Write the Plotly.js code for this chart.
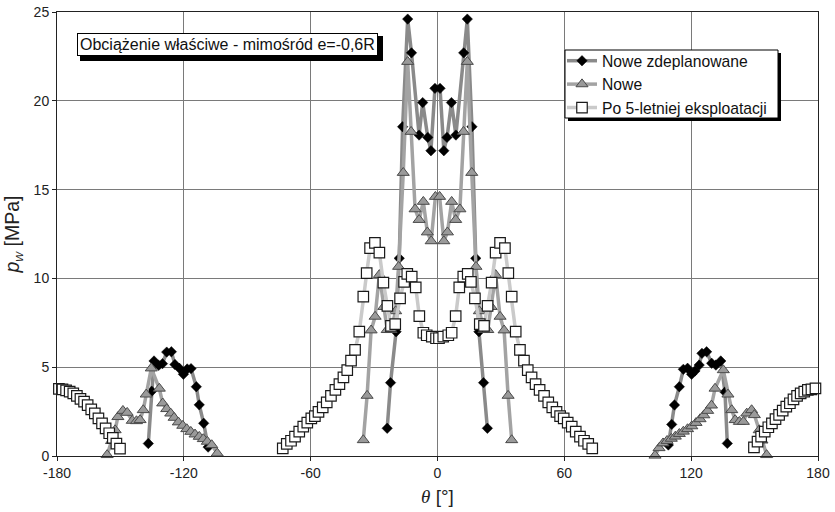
<!DOCTYPE html>
<html>
<head>
<meta charset="utf-8">
<script src="https://cdn.plot.ly/plotly-3.0.1.min.js"></script>
<style>html,body{margin:0;padding:0;background:#fff;}#chart{width:835px;height:512px;}</style>
</head>
<body>
<div id="chart"></div>
<script>
// ---- Series names ----
var seriesNames = ["Nowe zdeplanowane", "Nowe", "Po 5-letniej eksploatacji"];
var titleText = "Obciążenie właściwe - mimośród e=-0,6R";
var xTicks = [-180, -120, -60, 0, 60, 120, 180];
var yTicks = [0, 5, 10, 15, 20, 25];

// ---- Nowe zdeplanowane (diamonds) ----
var dLeftX = [-136.8, -135.2, -134.1, -131.9, -130.1, -128.1, -125.9, -124.2, -122.1, -120.2, -118.4, -116.6, -114.1, -112.7, -110.6, -108.5];
var dLeftY = [0.7, 3.65, 5.35, 5.1, 5.2, 5.85, 5.87, 5.15, 4.94, 4.6, 4.9, 4.92, 3.9, 2.88, 1.84, 0.5];
var dMidX = [-23.8, -22.2, -19.6, -18.1, -16.5, -14.1, -12.3, -8.7, -7.0, -4.6, -3.1, -1.2, 1.2, 3.0, 4.5, 6.6, 8.7, 12.4, 14.1, 16.3, 18.1, 19.6, 21.8, 23.6];
var dMidY = [1.56, 4.13, 7.0, 11.13, 18.54, 24.6, 22.7, 18.07, 19.9, 17.94, 17.19, 20.7, 20.7, 17.19, 17.94, 19.9, 18.07, 22.7, 24.6, 18.54, 11.13, 7.0, 4.13, 1.56];
var dRightX = [109.2, 110.8, 112.1, 114.4, 116.3, 118.3, 120.2, 121.8, 123.8, 125.1, 127.3, 129.7, 131.7, 134.0, 136.0, 137.1];
var dRightY = [0.62, 1.78, 2.87, 3.9, 4.88, 4.94, 4.6, 4.79, 5.12, 5.78, 5.87, 5.22, 5.12, 5.35, 3.6, 0.71];

// ---- Nowe (triangles) ----
var tLeftX = [-156.3, -154.2, -152.5, -151.2, -148.8, -146.8, -144.4, -142.4, -140.7, -139.2, -137.8, -135.4, -131.6, -130.0, -128.1, -126.2, -124.6, -122.6, -120.5, -118.6, -116.7, -114.7, -112.7, -110.8, -108.9, -106.8, -104.2];
var tLeftY = [0.06, 0.85, 1.46, 2.2, 2.55, 2.44, 1.99, 1.97, 2.03, 2.59, 3.47, 4.94, 3.8, 2.97, 2.65, 2.4, 2.16, 1.9, 1.71, 1.52, 1.37, 1.22, 1.09, 0.96, 0.81, 0.62, 0.15];
var tMidX = [-35.1, -33.3, -31.4, -29.5, -27.5, -25.4, -23.8, -22.0, -19.8, -18.4, -16.2, -14.1, -12.5, -10.6, -8.7, -6.7, -4.8, -3.0, -1.0, 1.0, 3.0, 4.7, 6.7, 8.6, 10.6, 12.3, 14.1, 16.2, 18.2, 19.8, 22.0, 23.8, 25.4, 27.5, 29.6, 31.5, 33.4, 35.1];
var tMidY = [0.9, 3.4, 7.08, 7.85, 10.2, 8.4, 7.1, 7.1, 8.16, 10.66, 15.95, 22.2, 18.26, 13.9, 13.3, 14.32, 12.6, 12.1, 14.6, 14.6, 12.1, 12.6, 14.32, 13.3, 13.9, 18.26, 22.2, 15.95, 10.66, 8.16, 7.1, 7.1, 8.4, 10.2, 7.85, 7.08, 3.4, 0.9];
var tRightX = [102.9, 104.8, 106.7, 108.6, 110.6, 112.5, 114.4, 116.3, 118.3, 120.3, 122.3, 124.2, 126.0, 127.8, 129.6, 131.3, 135.2, 137.4, 139.2, 140.8, 142.8, 144.7, 146.3, 148.6, 149.9, 152.2, 153.5, 155.7];
var tRightY = [0.03, 0.45, 0.72, 0.86, 0.98, 1.1, 1.25, 1.38, 1.52, 1.68, 1.87, 2.08, 2.3, 2.55, 2.85, 3.8, 4.84, 3.47, 2.59, 2.03, 1.93, 1.93, 2.4, 2.59, 2.31, 1.46, 0.88, 0.06];

// ---- Po 5-letniej eksploatacji (squares) ----
var sLeftX = [-179.1, -177.4, -175.7, -174.0, -172.3, -170.6, -168.9, -167.2, -165.5, -163.8, -162.1, -160.4, -158.7, -157.0, -155.3, -153.6, -151.9, -150.2];
var sLeftY = [3.78, 3.75, 3.7, 3.62, 3.53, 3.38, 3.22, 3.06, 2.87, 2.63, 2.4, 2.12, 1.84, 1.56, 1.28, 1.02, 0.7, 0.42];
var sMidX = [-73.2, -71.3, -69.3, -67.4, -65.4, -63.5, -61.6, -59.7, -58.0, -56.3, -54.3, -52.4, -50.4, -48.3, -46.4, -44.5, -42.7, -40.9, -39.0, -37.0, -35.1, -33.5, -31.9, -29.6, -27.5, -25.6, -23.7, -22.0, -20.0, -17.7, -15.8, -14.3, -12.2, -10.3, -8.6, -6.7, -5.1, -2.7, -0.7,
             0.7, 2.7, 5.1, 6.7, 8.6, 10.3, 12.2, 14.3, 15.8, 17.7, 20.0, 22.0, 23.7, 25.6, 27.5, 29.6, 31.9, 33.5, 35.1, 37.0, 39.0, 40.9, 42.7, 44.5, 46.4, 48.3, 50.4, 52.4, 54.3, 56.3, 58.0, 59.7, 61.6, 63.5, 65.4, 67.4, 69.3, 71.3, 73.2];
var sMidY = [0.43, 0.68, 0.86, 1.09, 1.37, 1.65, 1.88, 2.12, 2.25, 2.49, 2.74, 3.02, 3.38, 3.72, 4.05, 4.43, 4.84, 5.37, 5.97, 7.0, 8.97, 10.3, 11.7, 12.0, 11.45, 9.76, 8.45, 7.33, 7.43, 8.88, 9.8, 10.25, 10.1, 9.5, 7.88, 6.94, 6.8, 6.72, 6.63,
             6.63, 6.72, 6.8, 6.94, 7.88, 9.5, 10.1, 10.25, 9.8, 8.88, 7.43, 7.33, 8.45, 9.76, 11.45, 12.0, 11.7, 10.3, 8.97, 7.0, 5.97, 5.37, 4.84, 4.43, 4.05, 3.72, 3.38, 3.02, 2.74, 2.49, 2.25, 2.12, 1.88, 1.65, 1.37, 1.09, 0.86, 0.68, 0.43];
var sRightX = [149.7, 151.4, 153.1, 154.8, 156.5, 158.2, 159.9, 161.6, 163.3, 165.0, 166.7, 168.4, 170.1, 171.8, 173.5, 175.2, 176.9, 178.8];
var sRightY = [0.49, 0.81, 1.09, 1.37, 1.62, 1.84, 2.08, 2.31, 2.55, 2.78, 2.97, 3.19, 3.38, 3.53, 3.62, 3.72, 3.75, 3.81];

function joinSeg(parts) {
  var out = [];
  parts.forEach(function (p, i) { if (i > 0) out.push(null); out = out.concat(p); });
  return out;
}

var traces = [
  {
    name: seriesNames[0], type: 'scatter', mode: 'lines+markers', cliponaxis: false, connectgaps: false,
    x: joinSeg([dLeftX, dMidX, dRightX]), y: joinSeg([dLeftY, dMidY, dRightY]),
    line: {color: '#8a8a8a', width: 3.5},
    marker: {symbol: 'diamond', size: 8, color: '#000000', line: {color: '#000000', width: 0.5}}
  },
  {
    name: seriesNames[1], type: 'scatter', mode: 'lines+markers', cliponaxis: false, connectgaps: false,
    x: joinSeg([tLeftX, tMidX, tRightX]), y: joinSeg([tLeftY, tMidY, tRightY]),
    line: {color: '#a3a3a3', width: 3.5},
    marker: {symbol: 'triangle-up', size: 10.5, color: '#9a9a9a', line: {color: '#4a4a4a', width: 1}}
  },
  {
    name: seriesNames[2], type: 'scatter', mode: 'lines+markers', cliponaxis: false, connectgaps: false,
    x: joinSeg([sLeftX, sMidX, sRightX]), y: joinSeg([sLeftY, sMidY, sRightY]),
    line: {color: '#cacaca', width: 3.5},
    marker: {symbol: 'square', size: 10.5, color: '#ffffff', line: {color: '#1a1a1a', width: 1.2}}
  }
];

// pixel -> paper helpers (plot area 57..818 x 12..456)
function px(x) { return (x - 57) / 761; }
function py(y) { return (456 - y) / 444; }

var layout = {
  width: 835, height: 512,
  margin: {l: 57, r: 17, t: 12, b: 56},
  paper_bgcolor: '#ffffff', plot_bgcolor: '#ffffff',
  font: {family: 'Liberation Sans, Arial, sans-serif', size: 14, color: '#222'},
  showlegend: true,
  legend: {
    x: px(562), y: py(44), xanchor: 'left', yanchor: 'top',
    bgcolor: 'rgba(0,0,0,0)', borderwidth: 0,
    font: {family: 'Liberation Sans, Arial, sans-serif', size: 15.7, color: '#111'},
    tracegroupgap: 0, itemwidth: 30
  },
  xaxis: {
    range: [-180, 180], tickvals: xTicks, ticktext: xTicks.map(String),
    showgrid: true, gridcolor: '#7a7a7a', gridwidth: 1, zeroline: false,
    showline: true, linecolor: '#222', linewidth: 1, mirror: true,
    ticks: 'outside', ticklen: 4, tickcolor: '#222',
    tickfont: {size: 14, color: '#222'},
    title: {text: '<span style="font-family:Liberation Serif;font-style:italic">θ</span> [°]', font: {size: 19, color: '#222'}, standoff: 9}
  },
  yaxis: {
    range: [0, 25], tickvals: yTicks, ticktext: yTicks.map(String),
    showgrid: true, gridcolor: '#7a7a7a', gridwidth: 1, zeroline: false,
    showline: true, linecolor: '#222', linewidth: 1, mirror: true,
    ticks: 'outside', ticklen: 4, tickcolor: '#222',
    tickfont: {size: 14, color: '#222'},
    title: {text: '<i>p</i><sub><i>w</i></sub> [MPa]', font: {size: 19.5, color: '#222'}, standoff: 8}
  },
  annotations: [{
    xref: 'paper', yref: 'paper', x: px(77), y: py(33), xanchor: 'left', yanchor: 'top',
    text: titleText, showarrow: false,
    font: {family: 'Liberation Sans, Arial, sans-serif', size: 16, color: '#111'},
    bgcolor: '#ffffff', bordercolor: '#000000', borderwidth: 1, borderpad: 2
  }],
  shapes: [
    {type: 'rect', xref: 'paper', yref: 'paper', x0: px(80), x1: px(383), y0: py(61), y1: py(36), fillcolor: '#000', line: {width: 0}, layer: 'above'},
    {type: 'rect', xref: 'paper', yref: 'paper', x0: px(568), x1: px(781), y0: py(121), y1: py(53), fillcolor: '#000', line: {width: 0}, layer: 'above'},
    {type: 'rect', xref: 'paper', yref: 'paper', x0: px(565), x1: px(778), y0: py(118), y1: py(50), fillcolor: '#fff', line: {color: '#000', width: 1}, layer: 'above'}
  ]
};

Plotly.newPlot('chart', traces, layout, {displayModeBar: false, staticPlot: true});
</script>
</body>
</html>
